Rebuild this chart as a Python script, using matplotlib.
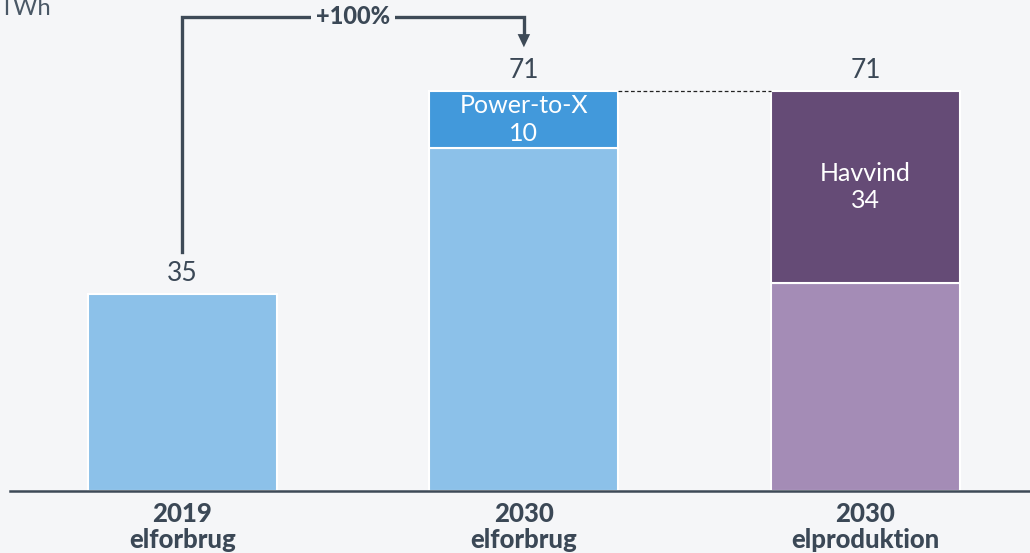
import matplotlib.pyplot as plt
import numpy as np

plt.rcParams["font.family"] = ["Lato", "DejaVu Sans"]

# data
categories = ["2019\nelforbrug", "2030\nelforbrug", "2030\nelproduktion"]
base_values = [35, 61, 37]
top_values = [0, 10, 34]
top_labels = [None, "Power-to-X", "Havvind"]
totals = [35, 71, 71]
growth_label = "+100%"
unit = "TWh"

BG = "#f5f6f8"
TXT = "#3b4856"
LINE = "#3e4a57"
base_colors = ["#8cc1e9", "#8cc1e9", "#a48cb6"]
top_colors = [None, "#4299db", "#654b76"]

fig = plt.figure(figsize=(10.3, 5.53), dpi=100, facecolor=BG)
ax = fig.add_axes([0.0, (553 - 491) / 553, 1.0, 491 / 553])
ax.set_facecolor(BG)

x = np.arange(len(categories))
width = 0.553
ax.bar(x, base_values, width=width, color=base_colors, edgecolor="white", linewidth=1.5)
for i in range(len(x)):
    if top_values[i]:
        ax.bar(x[i], top_values[i], bottom=base_values[i], width=width,
               color=top_colors[i], edgecolor="white", linewidth=1.5)
        ax.text(x[i], base_values[i] + top_values[i] / 2, f"{top_labels[i]}\n{top_values[i]}",
                ha="center", va="center", color="white", fontsize=18, linespacing=1.25)

for i, t in enumerate(totals):
    ax.annotate(str(t), (x[i], t), xytext=(0, 6), textcoords="offset points",
                ha="center", va="bottom", color=TXT, fontsize=19)

# dashed connector between equal totals
ax.plot([x[1] + width / 2, x[2] - width / 2], [totals[1], totals[2]],
        color="#222222", lw=0.9, ls=(0, (3, 2)))

# growth bracket
y_top = 84.2
ax.plot([x[0], x[0], x[1], x[1]], [42.4, y_top, y_top, 81.0],
        color=LINE, lw=2.4, solid_joinstyle="miter")
ax.annotate("", xy=(x[1], 78.8), xytext=(x[1], 81.6),
            arrowprops=dict(arrowstyle="-|>,head_width=0.45,head_length=0.95",
                            color=LINE, lw=0, shrinkA=0, shrinkB=0))
ax.text((x[0] + x[1]) / 2, y_top, growth_label, ha="center", va="center",
        fontsize=17, fontweight="black", color=TXT,
        bbox=dict(boxstyle="square,pad=0.2", fc=BG, ec="none"))

ax.set_xlim(-0.534, 2.482)
ax.set_ylim(0, 87.2)
ax.set_xticks(x)
ax.set_xticklabels(categories, fontsize=18.5, fontweight="black", color=TXT, linespacing=1.1)
ax.tick_params(axis="x", length=0, pad=8)
ax.set_yticks([])
for s in ["top", "right", "left"]:
    ax.spines[s].set_visible(False)
ax.spines["bottom"].set_color(LINE)
ax.spines["bottom"].set_linewidth(1.8)
ax.spines["bottom"].set_bounds(-0.505, 2.482)

fig.text(0.0, 1.003, unit, ha="left", va="top", fontsize=17, color="#4a5866")

fig.savefig("out.png", dpi=100, facecolor=BG)
